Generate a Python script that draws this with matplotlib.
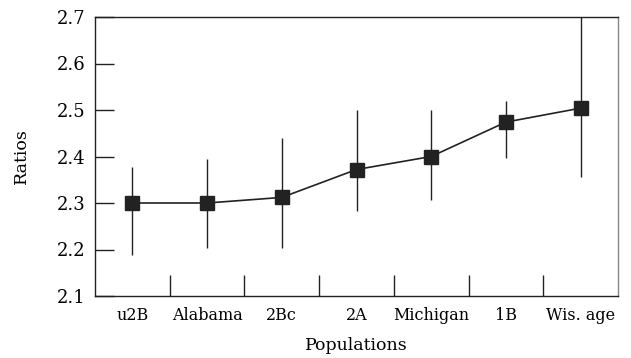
import matplotlib
matplotlib.use("Agg")
import matplotlib.pyplot as plt
import numpy as np

populations = ["u2B", "Alabama", "2Bc", "2A", "Michigan", "1B", "Wis. age"]
ratios = [2.30, 2.30, 2.312, 2.372, 2.40, 2.474, 2.504]
upper = [2.378, 2.395, 2.44, 2.50, 2.50, 2.519, 2.70]
lower = [2.188, 2.203, 2.203, 2.283, 2.307, 2.397, 2.356]

plt.rcParams['font.family'] = ['DejaVu Serif']

fig = plt.figure(figsize=(6.31, 3.58), dpi=100)
ax = fig.add_axes([95 / 631, 62 / 358, 523 / 631, 279 / 358])

x = np.arange(len(populations))
y = np.array(ratios)
err = [y - np.array(lower), np.array(upper) - y]

ax.errorbar(x, y, yerr=err, fmt="none", ecolor="#222222", elinewidth=1.0, capsize=0)
ax.plot(x, y, color="#222222", lw=1.2, marker="s", markersize=10,
        markerfacecolor="#222222", markeredgecolor="#222222")

ax.set_xlim(-0.5, len(populations) - 0.5)
ax.set_ylim(2.1, 2.7)
ax.set_yticks([2.1, 2.2, 2.3, 2.4, 2.5, 2.6, 2.7])
ax.set_xticks(x)
ax.set_xticklabels(populations)
ax.set_xticks(x[:-1] + 0.5, minor=True)

ax.tick_params(axis="x", which="major", length=0, labelsize=11.5, pad=8)
ax.tick_params(axis="x", which="minor", direction="in", length=15, width=1, color="#222222")
ax.tick_params(axis="y", direction="in", length=14, width=1, labelsize=13, pad=7, color="#222222")

ax.set_xlabel("Populations", fontsize=12.5, labelpad=9)
ax.set_ylabel("Ratios", fontsize=12.5, labelpad=19)

for s in ax.spines.values():
    s.set_color("#222222")
    s.set_linewidth(1.0)
ax.spines["right"].set_color("#888888")

fig.savefig("out.png", dpi=100)
